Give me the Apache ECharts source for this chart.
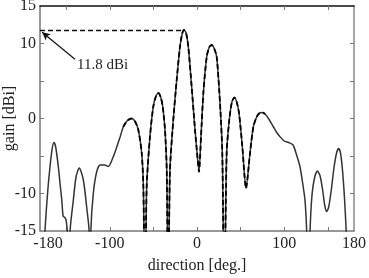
<!DOCTYPE html>
<html>
<head>
<meta charset="utf-8">
<script src="https://cdn.jsdelivr.net/npm/echarts@6/dist/echarts.min.js"></script>
<style>
  html, body { margin: 0; padding: 0; background: #fff; }
  #chart { width: 369px; height: 278px; }
</style>
</head>
<body>
<div id="chart"></div>
<script>
// radiation pattern (values below -15 are clipped nulls)
var angle = [-180, -176, -174.3, -171, -168.5, -166, -164, -162, -159, -157, -155, -153.5, -151.5, -150, -148.5, -147, -145.5,
  -141.8, -138.7, -135, -130.3, -126.5, -123.7, -122.7, -121.7, -118.9, -115, -111, -106, -101.7, -96, -92, -88, -84.5,
  -80, -75, -71, -67.3, -63.4, -61.5, -59.6, -57.7, -53.9, -50.1, -47, -44.3, -41.5, -39.3, -36.7, -34.7, -33, -31, -27.2,
  -23.3, -19.5, -17, -14.9, -12.5, -10, -6.1, -2.3, 0.8, 2.3, 4.6, 7.3, 11.1, 14, 16.8, 19.5, 22.6, 26.4, 29, 31.3, 34, 37,
  40, 42.8, 45.5, 48.2, 52, 56.2, 60.8, 64.6, 68.4, 71.5, 74.9, 78, 82, 87.5, 91, 95, 100, 105, 110, 114, 118, 121, 123.8,
  125.7, 127.6, 129.6, 132, 135, 138, 141, 144, 146.5, 148.7, 151, 154, 157, 160, 162.4, 164.5, 166.5, 168.5, 170, 171, 173, 180];
var gainSim = [-30, -20, -15, -9.5, -6.4, -4, -3.2, -3.8, -6.4, -8.7, -10.9, -13, -13.2, -13.6, -15.5, -25, -15,
  -10.9, -7.8, -6.6, -8.2, -11.8, -15, -25, -15, -10, -7.1, -6.2, -6.2, -6.4, -5.1, -3.8, -2.4, -1.1,
  -0.3, 0, -0.4, -1.5, -4.6, -9.1, -25, -9.1, -2.4, 1.6, 3.0, 3.4, 2.8, 1.6, -1.5, -6.9, -25, -6.9, -0.2,
  5.1, 9.6, 11.3, 11.8, 11.4, 9.6, 4.2, -1.5, -5.5, -7.1, -2.4, 3.4, 8.2, 9.5, 9.8, 9.4, 8.2, 2.0, -4.6, -25, -4.6, -0.2,
  2.2, 2.8, 2.2, 0.7, -3.8, -9.3, -4.6, -1.1, 0.2, 0.7, 0.8, 0.6, 0, -1.1, -1.8, -2.4, -3.0, -3.2, -3.5, -4.8, -6.4, -8.5, -10.9,
  -15, -25, -15, -10, -7.8, -7, -7.6, -9.5, -11.6, -12.4, -11.8, -9.5, -6.6, -4.6, -4, -4.6, -6.5, -9.5, -12.5, -15, -22, -30];
// span where the dashed (second) trace is drawn on top
var dashFrom = -86, dashTo = 80;
var peakGain = 11.8, peakAngle = -14.9;
var xLabels = [-180, -100, 0, 100, 180];
var xTicks = [-150, -100, -50, 0, 50, 100, 150];
var yLabels = [-15, -10, 0, 10, 15];
var yTicks = [-10, -5, 0, 5, 10];

var solid = angle.map(function (a, i) { return [a, gainSim[i]]; });
var dashed = solid.filter(function (p) { return p[0] >= dashFrom && p[0] <= dashTo; });

var font = 'Liberation Serif';
var chart = echarts.init(document.getElementById('chart'));

var option = {
  animation: false,
  grid: { left: 40, right: 15, top: 6, bottom: 47, outerBoundsMode: 'none', containLabel: false },
  xAxis: [{
    type: 'value', min: -180, max: 180, position: 'bottom',
    name: 'direction [deg.]', nameLocation: 'middle', nameGap: 27, nameMoveOverlap: false,
    nameTextStyle: { fontFamily: font, fontSize: 16, color: '#222' },
    axisLine: { onZero: false, lineStyle: { color: '#777', width: 1.5 } },
    axisTick: { inside: true, length: 4, customValues: xTicks, lineStyle: { color: '#777' } },
    axisLabel: {
      customValues: xLabels, margin: 5, fontFamily: font, fontSize: 16, color: '#222',
      formatter: function (v) { return v === -180 ? '{s|-180}' : String(v); },
      rich: { s: { fontFamily: font, fontSize: 16, color: '#222', padding: [0, 0, 0, 16] } }
    },
    splitLine: { show: false }
  }, {
    type: 'value', min: -180, max: 180, position: 'top',
    axisLine: { onZero: false, lineStyle: { color: '#111', width: 1.5 } },
    axisTick: { inside: true, length: 4, customValues: xTicks, lineStyle: { color: '#777' } },
    axisLabel: { show: false },
    splitLine: { show: false }
  }],
  yAxis: [{
    type: 'value', min: -15, max: 15, position: 'left',
    name: 'gain [dBi]', nameLocation: 'middle', nameGap: 22, nameRotate: 90, nameMoveOverlap: false,
    nameTextStyle: { fontFamily: font, fontSize: 16, color: '#222' },
    axisLine: { show: true, onZero: false, lineStyle: { color: '#777', width: 1.5 } },
    axisTick: { show: true, inside: true, length: 4, customValues: yTicks, lineStyle: { color: '#777' } },
    axisLabel: { customValues: yLabels, margin: 4, fontFamily: font, fontSize: 16, color: '#222' },
    splitLine: { show: false }
  }, {
    type: 'value', min: -15, max: 15, position: 'right',
    axisLine: { show: true, onZero: false, lineStyle: { color: '#888', width: 1.5 } },
    axisTick: { show: true, inside: true, length: 4, customValues: yTicks, lineStyle: { color: '#777' } },
    axisLabel: { show: false },
    splitLine: { show: false }
  }],
  series: [{
    type: 'line', data: solid, showSymbol: false, smooth: 0.25, clip: true,
    lineStyle: { color: '#333', width: 1.5 },
    markLine: {
      silent: true, symbol: 'none', animation: false,
      label: { show: false },
      data: [
        [{ coord: [-180, peakGain], lineStyle: { type: [5, 3], color: '#111', width: 1.3 } },
         { coord: [peakAngle, peakGain] }],
        [{ coord: [-139.9, 7.9], symbol: 'none', lineStyle: { type: 'solid', color: '#111', width: 1.2 } },
         { coord: [-177.5, 11.5], symbol: 'arrow', symbolSize: [6, 8] }]
      ]
    }
  }, {
    type: 'line', data: dashed, showSymbol: false, smooth: 0.25, clip: true,
    lineStyle: { color: '#000', width: 1.8, type: [5, 3] }
  }],
  graphic: [{
    type: 'text', left: 77, top: 58,
    style: { text: '11.8 dBi', fontFamily: font, fontSize: 15, fill: '#222' }
  }]
};

chart.setOption(option);
</script>
</body>
</html>
